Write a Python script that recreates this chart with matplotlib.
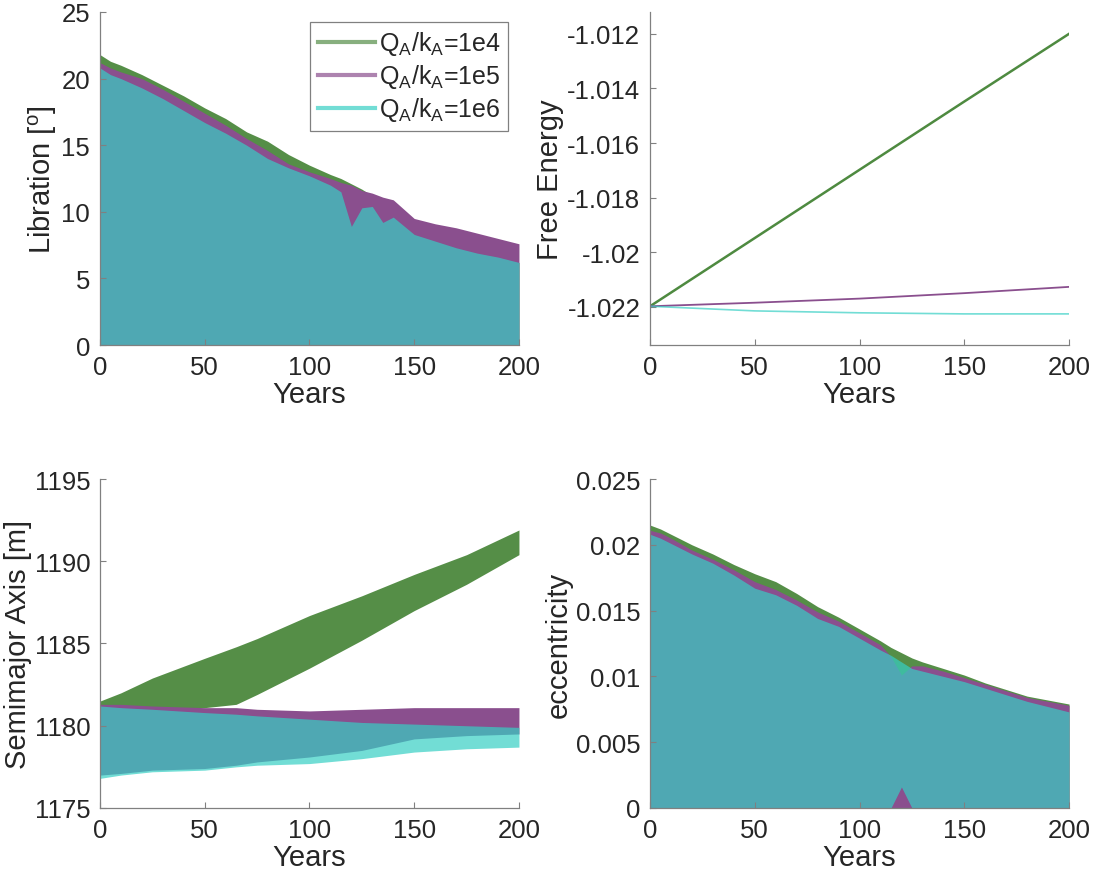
import matplotlib
matplotlib.use("Agg")
import matplotlib.pyplot as plt
from matplotlib.lines import Line2D
from matplotlib.ticker import FuncFormatter

plt.rcParams["font.family"] = ["Liberation Sans", "DejaVu Sans"]
plt.rcParams["text.color"] = "#262626"
plt.rcParams["axes.labelcolor"] = "#262626"

labels = [r"Q$_\mathregular{A}$/k$_\mathregular{A}$=1e4",
          r"Q$_\mathregular{A}$/k$_\mathregular{A}$=1e5",
          r"Q$_\mathregular{A}$/k$_\mathregular{A}$=1e6"]

# series colours (green 1e4, purple 1e5, cyan 1e6)
green = "#558e47"
purple = "#8a4f8e"
cyan = (0.21, 0.81, 0.77)

# libration: upper envelope of each band (band goes down to 0)
lib_years = [0, 5, 10, 20, 30, 40, 50, 60, 70, 80, 90, 100, 110, 115, 120,
             125, 130, 135, 140, 150, 160, 170, 180, 190, 200]
lib_green = [21.8, 21.3, 21.0, 20.3, 19.5, 18.7, 17.8, 17.0, 16.0, 15.3, 14.3,
             13.5, 12.8, 12.5, 12.1, 11.7, 11.2, 10.8, 10.3, 9.0, 8.2, 7.5,
             7.0, 6.6, 6.2]
lib_purple = [21.2, 20.8, 20.5, 20.0, 19.2, 18.3, 17.4, 16.5, 15.5, 14.6, 13.6,
              13.0, 12.5, 12.2, 12.0, 11.6, 11.4, 11.1, 10.9, 9.5, 9.1, 8.8,
              8.4, 8.0, 7.6]
lib_cyan = [20.8, 20.3, 20.0, 19.3, 18.5, 17.6, 16.7, 15.9, 15.0, 14.0, 13.3,
            12.7, 12.0, 11.5, 8.9, 10.3, 10.4, 9.2, 9.6, 8.3, 7.8, 7.3, 6.9,
            6.6, 6.2]

# free energy
fe_years = [0, 50, 100, 150, 200]
fe_green = [-1.02198, -1.01948, -1.01698, -1.01448, -1.01200]
fe_purple = [-1.02198, -1.02185, -1.02170, -1.02150, -1.02127]
fe_cyan = [-1.02198, -1.02215, -1.02222, -1.02226, -1.02226]

# semimajor axis: lower/upper envelopes
sa_years = [0, 10, 25, 50, 65, 75, 100, 125, 150, 175, 200]
sa_green_hi = [1181.5, 1182.0, 1182.9, 1184.1, 1184.8, 1185.3, 1186.7, 1187.9,
               1189.2, 1190.4, 1191.9]
sa_green_lo = [1180.9, 1180.9, 1181.0, 1181.1, 1181.3, 1181.9, 1183.5, 1185.2,
               1187.0, 1188.6, 1190.4]
sa_purple_hi = [1181.3, 1181.3, 1181.2, 1181.1, 1181.1, 1181.0, 1180.9, 1181.0,
                1181.1, 1181.1, 1181.1]
sa_purple_lo = [1177.0, 1177.1, 1177.3, 1177.4, 1177.6, 1177.8, 1178.1, 1178.5,
                1179.2, 1179.4, 1179.5]
sa_cyan_hi = [1181.2, 1181.1, 1181.0, 1180.8, 1180.7, 1180.6, 1180.4, 1180.2,
              1180.1, 1180.0, 1179.9]
sa_cyan_lo = [1176.8, 1177.0, 1177.2, 1177.3, 1177.5, 1177.6, 1177.7, 1178.0,
              1178.4, 1178.6, 1178.7]

# eccentricity: upper envelopes (cyan also has a lower edge)
ecc_years = [0, 5, 10, 20, 30, 40, 50, 60, 70, 80, 90, 100, 110, 115, 120,
             125, 130, 140, 150, 160, 170, 180, 190, 200]
ecc_green = [0.0215, 0.0212, 0.0208, 0.0200, 0.0193, 0.0185, 0.0178, 0.0172,
             0.0163, 0.0153, 0.0145, 0.0136, 0.0127, 0.0122, 0.0118, 0.0114,
             0.0111, 0.0106, 0.0101, 0.0095, 0.0090, 0.0085, 0.0082, 0.0079]
ecc_purple = [0.0211, 0.0209, 0.0205, 0.0196, 0.0189, 0.0181, 0.0172, 0.0166,
              0.0158, 0.0149, 0.0142, 0.0133, 0.0124, 0.0115, 0.0101, 0.0108,
              0.0108, 0.0104, 0.0099, 0.0094, 0.0089, 0.0084, 0.0081, 0.0078]
ecc_cyan = [0.0208, 0.0205, 0.0201, 0.0193, 0.0186, 0.0177, 0.0167, 0.0162,
            0.0154, 0.0144, 0.0138, 0.0129, 0.0120, 0.0116, 0.0111, 0.0106,
            0.0104, 0.0100, 0.0096, 0.0091, 0.0086, 0.0081, 0.0077, 0.0073]
ecc_cyan_lo = [0, 0, 0, 0, 0, 0, 0, 0, 0, 0, 0, 0, 0, 0, 0.0016, 0, 0, 0, 0,
               0, 0, 0, 0, 0]


def style(ax, ylabel, ylim, yticks):
    ax.set_xlim(0, 200)
    ax.set_xticks([0, 50, 100, 150, 200])
    ax.set_ylim(*ylim)
    ax.set_yticks(yticks)
    ax.yaxis.set_major_formatter(FuncFormatter(lambda v, p: "{:g}".format(round(v, 6))))
    ax.set_xlabel("Years", fontsize=21, labelpad=1)
    ax.set_ylabel(ylabel, fontsize=21, labelpad=2)
    for s in ["top", "right"]:
        ax.spines[s].set_visible(False)
    for s in ["left", "bottom"]:
        ax.spines[s].set_color("#808080")
        ax.spines[s].set_linewidth(0.9)
    ax.tick_params(direction="in", length=4, color="#808080", labelsize=18.5,
                   labelcolor="#262626", pad=7)


fig = plt.figure(figsize=(10.96, 8.78), dpi=100)
ax1 = fig.add_axes([0.0912, 0.6059, 0.3823, 0.3793])
ax2 = fig.add_axes([0.5931, 0.6059, 0.3823, 0.3793])
ax3 = fig.add_axes([0.0912, 0.0786, 0.3823, 0.3747])
ax4 = fig.add_axes([0.5931, 0.0786, 0.3823, 0.3747])

# libration
ax1.fill_between(lib_years, 0, lib_green, color=green, lw=0)
ax1.fill_between(lib_years, 0, lib_purple, color=purple, lw=0)
ax1.fill_between(lib_years, 0, lib_cyan, color=cyan, alpha=0.7, lw=0)
style(ax1, r"Libration [$^\mathregular{o}$]", (0, 25), [0, 5, 10, 15, 20, 25])
handles = [Line2D([], [], color=c, alpha=0.7, lw=3) for c in (green, purple, cyan)]
leg = ax1.legend(handles, labels, loc="upper right", fontsize=18, fancybox=False,
                 framealpha=1, edgecolor="#808080", handlelength=2.3,
                 handletextpad=0.15, borderpad=0.3, labelspacing=0.2,
                 borderaxespad=0.0, bbox_to_anchor=(0.975, 0.97))
leg.get_frame().set_linewidth(0.9)

# free energy
ax2.plot(fe_years, fe_green, color="#4e8a40", lw=1.8)
ax2.plot(fe_years, fe_purple, color=purple, lw=1.3)
ax2.plot(fe_years, fe_cyan, color=cyan, alpha=0.7, lw=1.2)
style(ax2, "Free Energy", (-1.0234, -1.0112),
      [-1.022, -1.020, -1.018, -1.016, -1.014, -1.012])

# semimajor axis
ax3.fill_between(sa_years, sa_green_lo, sa_green_hi, color=green, lw=0)
ax3.fill_between(sa_years, sa_purple_lo, sa_purple_hi, color=purple, lw=0)
ax3.fill_between(sa_years, sa_cyan_lo, sa_cyan_hi, color=cyan, alpha=0.7, lw=0)
style(ax3, "Semimajor Axis [m]", (1175, 1195), [1175, 1180, 1185, 1190, 1195])

# eccentricity
ax4.fill_between(ecc_years, 0, ecc_green, color=green, lw=0)
ax4.fill_between(ecc_years, 0, ecc_purple, color=purple, lw=0)
ax4.fill_between(ecc_years, ecc_cyan_lo, ecc_cyan, color=cyan, alpha=0.7, lw=0)
style(ax4, "eccentricity", (0, 0.025), [0, 0.005, 0.01, 0.015, 0.02, 0.025])

fig.savefig("out.png", dpi=100)
